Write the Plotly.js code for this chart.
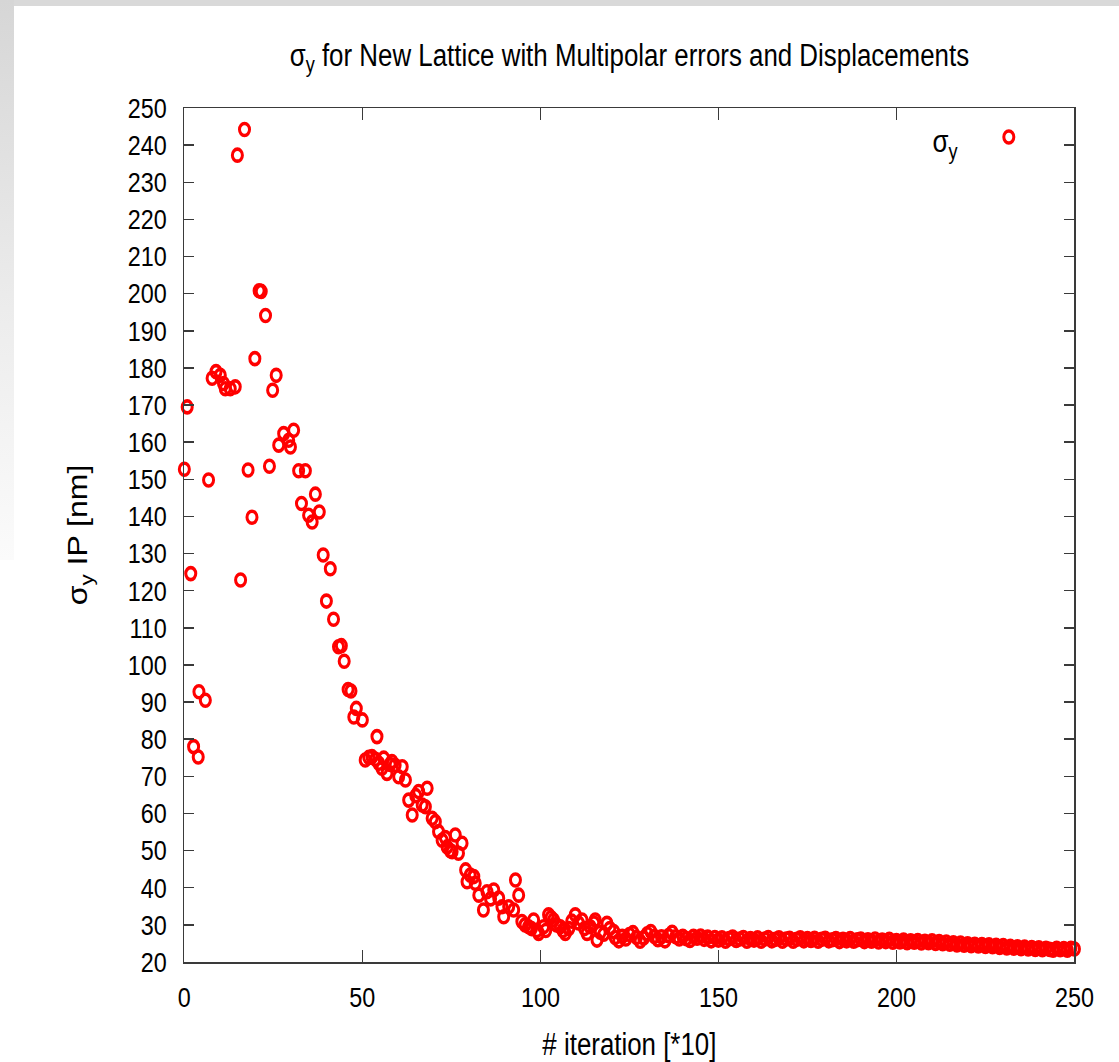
<!DOCTYPE html>
<html>
<head>
<meta charset="utf-8">
<script src="https://cdn.plot.ly/plotly-3.0.1.min.js"></script>
<style>
  html, body { margin: 0; padding: 0; width: 1119px; height: 1062px; overflow: hidden; }
  body { background: #ffffff; position: relative; }
  #topstrip { position: absolute; left: 0; top: 0; width: 1119px; height: 6px; background: #d9d9d9; }
  #leftstrip { position: absolute; left: 0; top: 0; width: 14px; height: 560px;
    background: linear-gradient(to bottom, #d6d6d6 0%, #ececec 55%, #fbfbfb 100%); }
  #wrap { position: absolute; left: 14px; top: 6px; width: 1105px; height: 1056px; overflow: hidden; background: #ffffff; }
  #chart { position: absolute; left: 0; top: 0; width: 1323px; height: 1056px;
    transform: scaleX(0.835); transform-origin: 0 0; }
</style>
</head>
<body>
<div id="topstrip"></div>
<div id="leftstrip"></div>
<div id="wrap"><div id="chart"></div></div>
<script>
// ---- data ----
const earlyIter = [0, 0.8, 1.8, 2.6, 3.9, 4.1, 5.9, 6.8, 7.8, 8.9, 10.1, 11.0, 11.5, 12.9, 14.3, 14.9, 15.8, 16.9, 17.9, 19.0,
  19.8, 21.0, 21.6, 22.8, 23.9, 24.8, 25.8, 26.5, 27.9, 29.3, 29.8, 30.7, 32.1, 32.9, 34.0, 34.9, 35.9, 36.8, 37.9, 39.0,
  39.9, 41.0, 41.9, 43.3, 44.1, 44.9, 46.0, 46.8, 47.6, 48.3, 50.0];
const earlySigma = [152.7, 169.5, 124.6, 78.0, 75.2, 92.8, 90.5, 149.8, 177.2, 179.0, 178.0, 175.8, 174.4, 174.4, 174.9, 237.3, 122.9, 244.2, 152.5, 139.8,
  182.5, 200.8, 200.6, 194.1, 153.5, 174.0, 178.0, 159.2, 162.3, 160.5, 158.7, 163.2, 152.3, 143.5, 152.3, 140.3, 138.5, 146.0, 141.2, 129.6,
  117.2, 125.9, 112.3, 104.9, 105.2, 101.0, 93.4, 93.0, 86.0, 88.3, 85.2];

const midIter = [50.8, 51.8, 52.7, 53.7, 54.1, 54.6, 55.5, 56.0, 56.9, 57.8, 58.3, 59.2, 60.2, 61.2, 62.1, 63.0, 64.0, 65.0, 65.8, 66.8,
  67.7, 68.2, 69.6, 70.5, 71.4, 72.4, 73.3, 73.8, 74.7, 75.2, 76.1, 77.0, 78.0, 79.0, 79.4, 80.3, 81.3, 81.7, 82.7, 84.0,
  85.0, 86.0, 86.9, 88.3, 89.2, 89.7, 91.1, 92.5, 93.0, 93.9, 94.8, 95.7, 96.7, 97.5, 98.1, 99.0, 99.5, 100.9, 101.5, 102.3,
  103.0, 103.7, 104.5, 105.6, 106.3, 107.0, 108.0, 108.8, 109.8, 110.7, 111.7, 112.4, 113.1, 114.0, 115.0, 115.4, 115.9, 116.8, 117.8, 118.7,
  119.5, 120.6];
const midSigma = [74.4, 75.1, 75.3, 74.6, 80.7, 73.5, 72.2, 74.9, 70.8, 73.2, 74.0, 73.0, 69.9, 72.6, 69.0, 63.6, 59.6, 64.8, 65.9, 62.3,
  61.8, 66.8, 58.7, 57.8, 55.1, 52.8, 53.5, 51.0, 50.0, 49.7, 54.2, 49.3, 52.0, 44.8, 41.6, 43.4, 43.0, 41.2, 38.0, 34.0,
  38.9, 37.0, 39.4, 37.2, 34.9, 32.2, 34.9, 34.0, 42.1, 38.0, 30.9, 30.0, 29.5, 29.0, 31.3, 28.5, 27.7, 29.5, 28.5, 32.7,
  32.0, 31.3, 30.0, 29.5, 28.5, 27.7, 29.0, 31.0, 32.7, 30.5, 31.3, 29.0, 27.7, 29.5, 30.5, 31.3, 25.9, 28.0, 27.5, 30.4,
  29.0, 28.2];

const lateIter = [121, 122, 123, 124, 125, 126, 127, 128, 129, 130, 131, 132, 133, 134, 135, 136, 137, 138, 139, 140,
  141, 142, 143, 144, 145, 146, 147, 148, 149, 150, 151, 152, 153, 154, 155, 156, 157, 158, 159, 160,
  161, 162, 163, 164, 165, 166, 167, 168, 169, 170, 171, 172, 173, 174, 175, 176, 177, 178, 179, 180,
  181, 182, 183, 184, 185, 186, 187, 188, 189, 190, 191, 192, 193, 194, 195, 196, 197, 198, 199, 200,
  201, 202, 203, 204, 205, 206, 207, 208, 209, 210, 211, 212, 213, 214, 215, 216, 217, 218, 219, 220,
  221, 222, 223, 224, 225, 226, 227, 228, 229, 230, 231, 232, 233, 234, 235, 236, 237, 238, 239, 240,
  241, 242, 243, 244, 245, 246, 247, 248, 249, 250];
const lateSigma = [26.6, 25.7, 26.9, 26.2, 27.4, 27.9, 26.6, 25.6, 26.5, 27.6, 28.2, 26.9, 26.0, 26.8, 25.7, 27.1, 28.0, 26.8, 26.2, 26.9,
  26.3, 25.8, 26.9, 26.4, 27.0, 26.1, 26.7, 25.7, 26.6, 25.9, 26.5, 25.6, 26.3, 26.7, 25.8, 26.2, 26.6, 25.6, 26.3, 25.9,
  26.5, 25.6, 26.2, 26.6, 25.7, 26.1, 26.5, 25.6, 26.2, 26.4, 25.6, 26.1, 26.5, 25.7, 26.3, 25.8, 26.4, 25.6, 26.1, 26.4,
  25.7, 26.0, 26.3, 25.5, 26.1, 25.7, 26.3, 25.6, 26.0, 26.2, 25.5, 26.0, 25.6, 26.2, 25.4, 25.9, 25.5, 26.1, 25.3, 25.8,
  25.4, 25.9, 25.2, 25.7, 25.3, 25.8, 25.1, 25.6, 25.2, 25.7, 25.0, 25.5, 24.9, 25.4, 24.8, 25.2, 24.6, 25.1, 24.5, 24.9,
  24.4, 24.8, 24.3, 24.7, 24.2, 24.6, 24.1, 24.5, 23.9, 24.4, 23.8, 24.2, 23.7, 24.1, 23.6, 24.0, 23.5, 23.9, 23.4, 23.8,
  23.3, 23.7, 23.4, 23.2, 23.7, 23.3, 23.6, 23.2, 23.7, 23.5];

const xTicks = [0, 50, 100, 150, 200, 250];
const yTicks = [20, 30, 40, 50, 60, 70, 80, 90, 100, 110, 120, 130, 140, 150, 160, 170, 180, 190, 200, 210, 220, 230, 240, 250];

const titleText = 'σ<sub>y</sub> for New Lattice with Multipolar errors and Displacements';
const xTitle = '# iteration [*10]';
const yTitle = 'σ<sub>y</sub> IP [nm]';
const seriesLabel = 'σ<sub>y</sub>';

// ---- chart ----
const FONT = '"Liberation Sans", Arial, sans-serif';
const iter = earlyIter.concat(midIter, lateIter);
const sigma = earlySigma.concat(midSigma, lateSigma);

const trace = {
  x: iter, y: sigma,
  type: 'scatter', mode: 'markers',
  name: ' ',
  cliponaxis: false,
  marker: { symbol: 'circle-open', size: 12, color: '#ff0000', line: { color: '#ff0000', width: 3.6 } },
  showlegend: true
};

const axisCommon = {
  showgrid: false, zeroline: false,
  showline: true, linecolor: '#3a3a3a', linewidth: 1.5,
  ticks: 'inside', ticklen: 12, tickwidth: 1.5, tickcolor: '#3a3a3a',
  mirror: 'ticks',
  tickfont: { family: FONT, size: 28, color: '#000' }
};

const layout = {
  width: 1323, height: 1056,
  paper_bgcolor: '#ffffff', plot_bgcolor: '#ffffff',
  margin: { l: 204, r: 53, t: 102, b: 100 },
  font: { family: FONT, color: '#000' },
  title: { text: titleText, font: { family: FONT, size: 31, color: '#000' },
    x: 0.5, xref: 'paper', xanchor: 'center', y: 1 - 49 / 1056, yref: 'container', yanchor: 'middle' },
  xaxis: Object.assign({}, axisCommon, {
    range: [0, 250], tickvals: xTicks, ticktext: xTicks.map(String),
    ticklabelstandoff: 10,
    title: { text: xTitle, font: { family: FONT, size: 31, color: '#000' }, standoff: 22 }
  }),
  yaxis: Object.assign({}, axisCommon, {
    range: [20, 250], tickvals: yTicks, ticktext: yTicks.map(String),
    ticklabelstandoff: 14,
    title: { text: yTitle, font: { family: FONT, size: 32, color: '#000' }, standoff: 38 }
  }),
  showlegend: true,
  legend: { x: 0.9075, y: 0.995, xanchor: 'left', yanchor: 'top', bgcolor: 'rgba(0,0,0,0)',
    font: { family: FONT, size: 28 }, itemwidth: 30 },
  annotations: [{ text: seriesLabel, xref: 'paper', yref: 'paper', x: 0.855, y: 0.958,
    xanchor: 'center', yanchor: 'middle', showarrow: false, font: { family: FONT, size: 31, color: '#000' } }]
};

Plotly.newPlot('chart', [trace], layout, { displayModeBar: false, staticPlot: true });
</script>
</body>
</html>
